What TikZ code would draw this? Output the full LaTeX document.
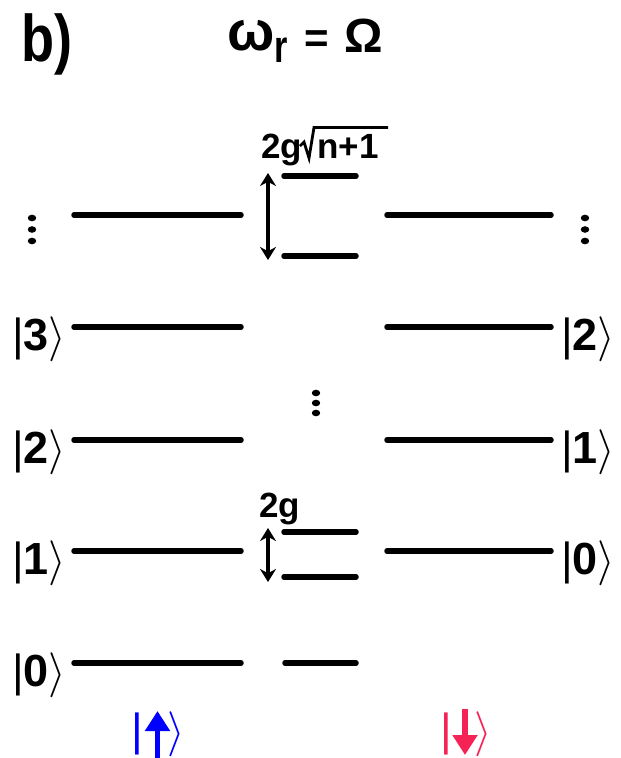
\RequirePackage{fix-cm}
\documentclass[tikz,border=0pt]{standalone}
\usepackage{fontspec}
\setmainfont{Liberation Sans}
\usetikzlibrary{arrows.meta}
\definecolor{kblue}{RGB}{0,0,255}
\definecolor{kred}{RGB}{245,35,85}
\newcommand{\myket}[1]{{\fontsize{45}{45}\selectfont|\textbf{#1}$\rangle$}}
\newcommand{\bigtxt}[1]{{\fontsize{45}{45}\selectfont #1}}
\tikzset{
  lvl/.style={line width=5.5pt, line cap=round},
  splitarrow/.style={line width=3.8pt, {Stealth[length=13pt,width=16pt]}-{Stealth[length=13pt,width=16pt]}},
  spinarrow/.style={line width=5.5pt, -{Triangle[length=20pt,width=24pt]}},
  lbl/.style={inner sep=0pt, anchor=base west},
  dotty/.style={fill=black},
}
\begin{document}
\begin{tikzpicture}[x=1pt,y=-1pt]
\useasboundingbox (0,0) rectangle (621,758);
% title
\node[lbl] (b) at (21,61) {\fontsize{66}{66}\selectfont\bfseries\scalebox{0.82}[1]{b)}};
\node[lbl] (om) at (227,50) {\fontsize{56}{56}\selectfont\bfseries ω};
\node[lbl] (sub) at (274,62) {\fontsize{38}{38}\selectfont\bfseries\scalebox{0.9}[1.2]{r}};
\node[lbl] (eq) at (304,52) {\fontsize{42}{42}\selectfont\bfseries =};
\node[lbl] (Om) at (344,52) {\fontsize{48}{48}\selectfont\bfseries Ω};
% left levels
\coordinate (l4a) at (74,215); \coordinate (l4b) at (241,215);
\coordinate (l3a) at (74,327); \coordinate (l3b) at (241,327);
\coordinate (l2a) at (74,440); \coordinate (l2b) at (241,440);
\coordinate (l1a) at (74,551); \coordinate (l1b) at (241,551);
\coordinate (l0a) at (74,663); \coordinate (l0b) at (241,663);
\draw[lvl] (l4a) -- (l4b);
\draw[lvl] (l3a) -- (l3b);
\draw[lvl] (l2a) -- (l2b);
\draw[lvl] (l1a) -- (l1b);
\draw[lvl] (l0a) -- (l0b);
% middle levels
\coordinate (mua) at (284,176); \coordinate (mub) at (356,176);
\coordinate (mla) at (284,256); \coordinate (mlb) at (356,256);
\coordinate (m1ua) at (284,532); \coordinate (m1ub) at (356,532);
\coordinate (m1la) at (284,577); \coordinate (m1lb) at (356,577);
\coordinate (m0a) at (285,663); \coordinate (m0b) at (356,663);
\draw[lvl] (mua) -- (mub);
\draw[lvl] (mla) -- (mlb);
\draw[lvl] (m1ua) -- (m1ub);
\draw[lvl] (m1la) -- (m1lb);
\draw[lvl] (m0a) -- (m0b);
% right levels
\coordinate (r3a) at (387,215); \coordinate (r3b) at (551,215);
\coordinate (r2a) at (387,327); \coordinate (r2b) at (551,327);
\coordinate (r1a) at (387,440); \coordinate (r1b) at (551,440);
\coordinate (r0a) at (387,551); \coordinate (r0b) at (551,551);
\draw[lvl] (r3a) -- (r3b);
\draw[lvl] (r2a) -- (r2b);
\draw[lvl] (r1a) -- (r1b);
\draw[lvl] (r0a) -- (r0b);
% splitting arrows
\coordinate (at) at (268,173); \coordinate (ab) at (268,260);
\coordinate (bt) at (268,528); \coordinate (bb) at (268,582);
\draw[splitarrow] (at) -- (ab);
\draw[splitarrow] (bt) -- (bb);
% splitting labels
\node[lbl] (g1) at (261,158) {\fontsize{35}{35}\selectfont\bfseries 2g};
\node[lbl] (n1) at (317,158) {\fontsize{35}{35}\selectfont\bfseries n+1};
\draw[line width=2.8pt, line join=miter] (300,146) -- (304,142) -- (309,158) -- (314,127.5) -- (388,127.5);
\node[lbl] (g2) at (259,517) {\fontsize{35}{35}\selectfont\bfseries 2g};
% kets left
\node[lbl] (k3) at (12,350) {\myket{3}};
\node[lbl] (k2) at (12,463) {\myket{2}};
\node[lbl] (k1) at (12,574) {\myket{1}};
\node[lbl] (k0) at (12,686) {\myket{0}};
% kets right
\node[lbl] (q2) at (561,350) {\myket{2}};
\node[lbl] (q1) at (561,463) {\myket{1}};
\node[lbl] (q0) at (561,574) {\myket{0}};
% spin up ket
\node[lbl, text=kblue] (upbar) at (131,745) {\bigtxt{|}};
\coordinate (upfoot) at (157.5,760); \coordinate (uphead) at (157.5,711);
\draw[spinarrow, kblue] (upfoot) -- (uphead);
\node[lbl, text=kblue] (upang) at (167,745) {\bigtxt{$\rangle$}};
% spin down ket
\node[lbl, text=kred] (dnbar) at (440,745) {\bigtxt{|}};
\coordinate (dntail) at (465,709); \coordinate (dnhead) at (465,755);
\draw[spinarrow, kred] (dntail) -- (dnhead);
\node[lbl, text=kred] (dnang) at (474,745) {\bigtxt{$\rangle$}};
% dots
\foreach \y in {218,229.5,241} {
  \fill[dotty] (32,\y) ellipse [x radius=4.2pt, y radius=3.3pt];
  \fill[dotty] (585,\y) ellipse [x radius=4.2pt, y radius=3.3pt];
}
\foreach \y in {393,403,413} {
  \fill[dotty] (316,\y) ellipse [x radius=4.2pt, y radius=3.3pt];
}
\end{tikzpicture}
\end{document}
